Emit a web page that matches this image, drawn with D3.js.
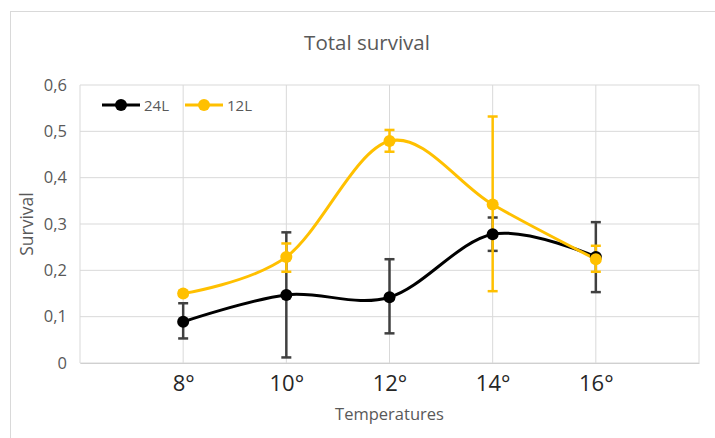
<!DOCTYPE html>
<html>
<head>
<meta charset="utf-8">
<script src="https://cdn.jsdelivr.net/npm/d3@7"></script>
<style>
  body { margin:0; background:#fff; }
  text { font-family: "Open Sans", "Noto Sans", sans-serif; }
</style>
</head>
<body>
<div class="canvas"></div>
<script>
// DATA
const temps = [8, 10, 12, 14, 16];
const tickLabels = ["8°", "10°", "12°", "14°", "16°"];
const yTicks = [0, 0.1, 0.2, 0.3, 0.4, 0.5, 0.6];

const s24 = [0.089, 0.147, 0.142, 0.278, 0.229];
const s24lo = [0.053, 0.012, 0.064, 0.242, 0.153];
const s24hi = [0.129, 0.282, 0.224, 0.314, 0.304];

const s12 = [0.150, 0.229, 0.479, 0.342, 0.224];
const s12lo = [0.145, 0.197, 0.456, 0.155, 0.197];
const s12hi = [0.155, 0.258, 0.503, 0.532, 0.253];

const seriesNames = ["24L", "12L"];
const colors = ["#000000", "#FFC000"];
const errColors = ["#404040", "#FFC000"];

// Dimensions
const margins = {top:85, right:16, bottom:75, left:80};
const width = 715 - margins.left - margins.right;
const height = 438 - margins.top - margins.bottom;

const svg = d3.select(".canvas")
  .append("svg")
  .attr("width", 715)
  .attr("height", 438);

// outer chart border
svg.append("rect")
  .attr("x", 10.5).attr("y", 11.5)
  .attr("width", 720).attr("height", 440)
  .attr("fill", "none").attr("stroke", "#d9d9d9");

svg.append("text")
  .attr("x", 367).attr("y", 50)
  .attr("text-anchor", "middle")
  .attr("font-size", 20.5)
  .attr("fill", "#595959")
  .text("Total survival");

const canvas = svg.append("g")
  .attr("transform", `translate(${margins.left},${margins.top})`);

// SCALES
const xScale = d3.scaleLinear().domain([6, 18]).range([0, width]);
const yScale = d3.scaleLinear().domain([0, 0.6]).range([height, 0]);

// GRID
canvas.append("g")
  .selectAll("line.h")
  .data(yTicks)
  .enter().append("line")
  .attr("x1", 0).attr("x2", width)
  .attr("y1", d => yScale(d)).attr("y2", d => yScale(d))
  .attr("stroke", "#d9d9d9").attr("stroke-width", 1);

canvas.append("g")
  .selectAll("line.v")
  .data([6].concat(temps, [18]))
  .enter().append("line")
  .attr("x1", d => xScale(d)).attr("x2", d => xScale(d))
  .attr("y1", 0).attr("y2", height)
  .attr("stroke", "#d9d9d9").attr("stroke-width", 1);

// AXES
const yAxis = canvas.append("g")
  .call(d3.axisLeft(yScale).tickValues(yTicks).tickSize(0).tickPadding(13)
    .tickFormat(d => d === 0 ? "0" : d3.format(".1f")(d).replace(".", ",")));
yAxis.select(".domain").remove();
yAxis.selectAll("text").attr("font-size", 16.5).attr("fill", "#595959")
  .style("font-family", "Open Sans, Noto Sans, sans-serif");

const xAxis = canvas.append("g")
  .attr("transform", `translate(0,${height})`)
  .call(d3.axisBottom(xScale).tickValues(temps).tickSize(0).tickPadding(12)
    .tickFormat((d, i) => tickLabels[i]));
xAxis.select(".domain").attr("stroke", "#d0d0d0");
xAxis.selectAll("text").attr("font-size", 22).attr("fill", "#262626")
  .style("font-family", "Open Sans, Noto Sans, sans-serif");

svg.append("text")
  .attr("transform", "translate(33,224) rotate(-90)")
  .attr("text-anchor", "middle")
  .attr("font-size", 17.5)
  .attr("fill", "#595959")
  .text("Survival");

svg.append("text")
  .attr("x", margins.left + width / 2).attr("y", 420)
  .attr("text-anchor", "middle")
  .attr("font-size", 16.5)
  .attr("fill", "#595959")
  .text("Temperatures");

// SERIES
const series = [
  {vals: s24, lo: s24lo, hi: s24hi},
  {vals: s12, lo: s12lo, hi: s12hi}
];

// error bars
series.forEach((s, k) => {
  const g = canvas.append("g").attr("stroke", errColors[k]).attr("stroke-width", 2.5);
  temps.forEach((t, i) => {
    const x = xScale(t);
    g.append("line").attr("x1", x).attr("x2", x)
      .attr("y1", yScale(s.lo[i])).attr("y2", yScale(s.hi[i]));
    [s.lo[i], s.hi[i]].forEach(v => {
      g.append("line").attr("x1", x - 5).attr("x2", x + 5)
        .attr("y1", yScale(v)).attr("y2", yScale(v));
    });
  });
});

const line = d3.line()
  .x((d, i) => xScale(temps[i]))
  .y(d => yScale(d))
  .curve(d3.curveCardinal.tension(0));

series.forEach((s, k) => {
  canvas.append("path")
    .datum(s.vals)
    .attr("d", line)
    .attr("fill", "none")
    .attr("stroke", colors[k])
    .attr("stroke-width", 3);
});

series.forEach((s, k) => {
  canvas.append("g").selectAll("circle")
    .data(s.vals)
    .enter().append("circle")
    .attr("cx", (d, i) => xScale(temps[i]))
    .attr("cy", d => yScale(d))
    .attr("r", 6)
    .attr("fill", colors[k]);
});

// LEGEND
const legend = canvas.append("g").attr("transform", "translate(22,20)");
seriesNames.forEach((name, k) => {
  const lg = legend.append("g").attr("transform", `translate(${k * 83},0)`);
  lg.append("line").attr("x1", 0).attr("x2", 38).attr("y1", 0).attr("y2", 0)
    .attr("stroke", colors[k]).attr("stroke-width", 3);
  lg.append("circle").attr("cx", 19).attr("cy", 0).attr("r", 6).attr("fill", colors[k]);
  lg.append("text").attr("x", 42).attr("y", 5.5)
    .attr("font-size", 15).attr("fill", "#595959").text(name);
});
</script>
</body>
</html>
